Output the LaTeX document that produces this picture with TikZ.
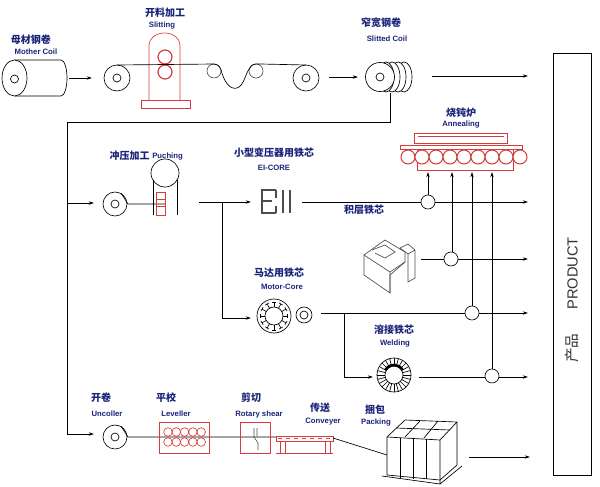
\documentclass[tikz,border=0pt]{standalone}
\usepackage{fontspec}
\setmainfont{Liberation Sans}
\newfontfamily\cjk{Noto Sans CJK SC}
\usetikzlibrary{arrows.meta,calc}
\definecolor{navy}{RGB}{25,35,120}
\definecolor{rd}{RGB}{215,60,60}
\begin{document}
\begin{tikzpicture}[x=0.75pt,y=-0.75pt,line width=0.5pt,
  cn/.style={font=\cjk\bfseries\fontsize{7.5}{8}\selectfont,text=navy,inner sep=0pt},
  en/.style={font=\bfseries\fontsize{5.8}{7}\selectfont,text=navy,inner sep=0pt},
  arr/.style={-{Stealth[length=4pt,width=2.5pt]}},
  red/.style={draw=rd},
  gr/.style={draw=black!70}]
\useasboundingbox (0,0) rectangle (600,486);
% ===== row 1
\node[cn] (mc1) at (31,40) {母材钢卷};
\node[en] (mc2) at (36,52) {Mother Coil};
\draw (14.5,60) -- (61,60) arc (-90:90:6 and 18) -- (14.5,96);
\draw[fill=white] (14.5,78) ellipse (12.5 and 18);
\draw (14.5,79) circle (4);
\coordinate (a1s) at (69,78); \coordinate (a1e) at (92,78);
\draw[arr] (a1s) -- (a1e);
\node[cn] (sl1) at (165,13) {开料加工};
\node[en] (sl2) at (162,26) {Slitting};
\draw[red] (149,100) -- (149,45) arc (180:360:15.5 and 12) -- (180,100);
\draw[red] (141,100) rectangle (190,108);
\draw[red,line width=0.9pt] (165,57) circle (7) (165,72) circle (7);
\draw (117,78) circle (13); \draw (117,78) circle (4);
\draw[gr] (214,71) circle (7) (256,71) circle (7);
\draw (117,65) -- (214,64) arc (-90:-20:7) .. controls (224,82) and (230,90) .. (237,88)
  .. controls (244,86) and (246,72) .. (249.5,68.5) arc (-160:-90:7) -- (306,65);
\draw (306,78) circle (13); \draw (306,78) circle (4);
\draw[arr] (329,77) -- (358,77);
\node[cn] (sc1) at (381,23) {窄宽钢卷};
\node[en] (sc2) at (387,39) {Slitted Coil};
\foreach \dx in {24,18,12,6}{\draw[fill=white] (380+\dx,77) ellipse (8 and 15);}
\draw[fill=white] (380,77) circle (14.5); \draw (380,77) circle (4);
\draw[arr] (432,76) -- (528,76);
% loop line
\coordinate (l1) at (390,93); \coordinate (l2) at (390,122); \coordinate (l3) at (67,122);
\draw (l1) -- (l2) -- (l3) -- (67,434);
% ===== product box
\draw (553,53) rectangle (591,475);
\node[rotate=90,font=\fontsize{11}{12}\selectfont,text=black!80] (prod) at (572,300) {{\cjk 产品}\hspace{18pt}PRODUCT};
% ===== annealing
\node[cn] (an1) at (461,113) {烧钝炉};
\node[en] (an2) at (461,125) {Annealing};
\draw[red] (414,133) rectangle (507,143);
\draw[red] (418,136) -- (504,136);
\draw[red] (400,145) rectangle (522,149);
\draw[red] (417,149) rectangle (513,170);
\foreach \k in {0,...,8}{\draw[red,fill=white,line width=0.8pt] (408+14*\k,157) circle (7);}
% ===== punching row
\draw[arr] (67,203) -- (94,203);
\node[cn,anchor=east] (pu1) at (150,156) {冲压加工};
\node[en,anchor=west] (pu2) at (152,157) {Puching};
\draw (115,204) circle (12); \draw (115,204) circle (4);
\draw (121,193) -- (128,204) -- (165,204);
\draw[fill=white] (165,173) circle (14);
\draw (153,180) -- (153,215) (177,180) -- (177,215);
\draw[red] (156,192) rectangle (165,215);
\draw[red] (156,199) -- (165,199) (156,206) -- (165,206);
\draw[arr] (199,202) -- (251,202);
\node[cn] (ei1) at (274,153) {小型变压器用铁芯};
\node[en] (ei2) at (274,168) {EI-CORE};
\draw[gr,line width=0.8pt] (276,190) -- (262,190) -- (262,213) -- (276,213)
  (262,201) -- (272,201) (276,190) -- (276,198) (276,206)--(276,213);
\draw[gr,line width=0.8pt] (283,190) -- (283,213) (290,190) -- (290,213);
\draw (302,202) -- (421,202); \draw (428,202) circle (7); \draw[arr] (435,202) -- (528,202);
\foreach \xx in {428,452,472,492}{\draw[arr] (\xx,195) -- (\xx,172);}
\node[cn] (la) at (364,210) {积层铁芯};
% laminated core 3D (approx)
\draw[gr] (364,255) -- (385,240) -- (405,252) -- (405,262) -- (390,275) -- (390,293) -- (364,275) -- cycle;
\draw[gr] (364,255) -- (390,272) -- (405,262) (390,272) -- (390,293);
\draw[gr] (372,250) -- (385,245) -- (395,252) -- (385,258) -- (375,253);
\draw[gr] (400,248) -- (408,244) -- (415,250) -- (415,278) -- (408,282) -- (408,254) -- cycle;
\draw[gr] (408,254) -- (415,250);
\draw (421,259) -- (444,259); \draw (451,259) circle (7); \draw[arr] (458,259) -- (528,259);
\draw (452,195) -- (452,252);
% motor core
\draw (222,202) -- (222,318); \draw[arr] (222,318) -- (251,318);
\node[cn] (mo1) at (279,273) {马达用铁芯};
\node[en] (mo2) at (282,287) {Motor-Core};
\draw (274,316) circle (17) (274,316) circle (9);
\foreach \a in {0,30,...,330}{\draw (274,316) ++(\a:9) -- ++(\a:5);}
\foreach \a in {0,30,...,330}{\draw (274,316) ++(\a-9:14) arc (\a-9:\a+9:14);}
\draw (304,315) circle (8) (304,315) circle (4);
\draw (321,313) -- (465,313); \draw (472,313) circle (7); \draw[arr] (479,313) -- (528,313);
\draw (472,195) -- (472,306);
% welding
\draw (344,313) -- (344,377); \draw[arr] (344,377) -- (373,377);
\node[cn] (we1) at (394,330) {溶接铁芯};
\node[en] (we2) at (395,344) {Welding};
\draw (394,375) circle (17) (394,375) circle (9);
\foreach \a in {0,15,...,345}{\draw (394,375) ++(\a:9) -- ++(\a:8);}
\draw[line width=2pt] (394,375) ++(-150:10) arc (-150:-30:10);
\draw (419,377) -- (485,377); \draw (492,376) circle (7); \draw[arr] (499,377) -- (528,377);
\draw (492,195) -- (492,369);
% ===== bottom row
\draw[arr] (67,434) -- (94,434);
\node[cn] (u1) at (101,398) {开卷};
\node[en] (u2) at (107,414) {Uncoller};
\node[cn] (v1) at (166,398) {平校};
\node[en] (v2) at (176,414) {Leveller};
\node[cn] (r1) at (251,398) {剪切};
\node[en] (r2) at (259,414) {Rotary shear};
\node[cn] (c1) at (320,408) {传送};
\node[en] (c2) at (323,422) {Conveyer};
\node[cn] (p1) at (375,410) {捆包};
\node[en] (p2) at (376,423) {Packing};
\draw (115,437) circle (12); \draw (115,437) circle (4);
\draw (121,426) -- (128,437) -- (276,437);
\draw[red] (159,422) rectangle (209,453);
\foreach \k in {0,...,4}{\draw[red] (168+8.3*\k,432) circle (4.3) (168+8.3*\k,442) circle (4.3);}
\draw[red] (240,422) rectangle (270,453);
\draw[gr] (254,428) -- (254,437) -- (258,443) -- (258,450) (257,428) -- (257,436);
\draw[red] (276,436) rectangle (333,441);
\draw[red,dashed] (278,438.5) -- (331,438.5);
\draw[red] (280,441) -- (280,453) (285,441) -- (285,453) (325,441) -- (325,453) (330,441) -- (330,453) (276,453) -- (333,453);
\draw (333,438) -- (387,455);
% packing box
\draw[fill=white] (387,437) -- (387,475) -- (440,480) -- (457,465) -- (457,422) -- (405,420) -- cycle;
\draw (387,437) -- (440,440) -- (457,422) (440,440) -- (440,480);
\foreach \t in {0.25,0.5,0.75}{\draw ($(387,437)!\t!(440,440)$) -- ++(0,40);}
\draw (405,437) -- (420,421) (424,438) -- (438,421) (396,428) -- (450,430);
\draw (382,476) -- (440,484) -- (462,466) (440,484) -- (440,480);
\draw[arr] (469,457) -- (530,457);
\end{tikzpicture}
\end{document}
